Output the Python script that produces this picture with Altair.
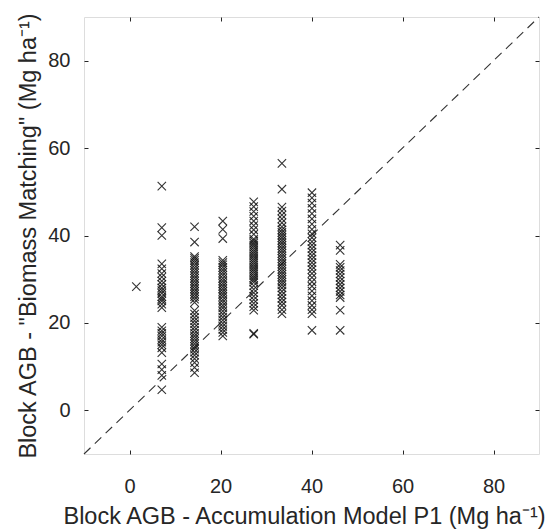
import altair as alt
import pandas as pd

# Column x positions (Accumulation Model P1) and their y values (Biomass Matching)
col_x = [7.1, 14.3, 20.5, 27.3, 33.5, 40.1, 46.3]
col1 = [51.3, 41.8, 40.0, 33.5, 32.4, 31.3, 30.5, 29.6, 28.8, 28.0, 27.4, 26.8, 26.0, 25.5,
        25.0, 24.3, 23.5, 19.0, 18.2, 17.6, 17.0, 16.2, 15.6, 15.0, 14.3, 13.2, 10.6, 9.3,
        8.0, 4.7]
col2 = [42.0, 38.5, 35.2, 34.8, 34.3, 33.8, 33.2, 32.6, 32.0, 31.4, 30.8, 30.2, 29.6, 29.0,
        28.4, 27.8, 27.2, 26.6, 26.0, 25.4, 24.7, 22.8, 22.0, 21.2, 20.5, 19.8, 19.0, 18.3,
        17.6, 17.0, 16.4, 15.8, 15.2, 14.6, 14.0, 13.3, 12.6, 11.8, 10.9, 9.8, 8.6]
col3 = [43.3, 41.4, 39.3, 34.3, 33.8, 33.3, 32.7, 32.1, 31.5, 30.9, 30.2, 29.6, 29.0, 28.4,
        27.8, 27.2, 26.6, 26.0, 25.3, 24.7, 24.0, 23.4, 22.7, 22.0, 21.3, 20.6, 19.9, 19.2,
        18.5, 17.8, 17.0]
col4 = [47.7, 46.6, 45.5, 44.4, 43.3, 42.3, 41.3, 40.3, 39.2, 38.8, 38.3, 37.8, 37.3, 36.8,
        36.3, 35.8, 35.3, 34.8, 34.3, 33.8, 33.3, 32.8, 32.3, 31.8, 31.3, 30.8, 30.3, 29.8,
        29.3, 28.5, 27.7, 26.9, 26.1, 25.3, 24.5, 23.7, 22.9, 17.6, 17.4]
col5 = [56.5, 50.6, 46.5, 45.6, 44.7, 43.8, 42.9, 42.0, 41.3, 40.7, 40.1, 39.5, 38.9, 38.3,
        37.7, 37.1, 36.5, 35.9, 35.3, 34.7, 34.1, 33.5, 32.9, 32.3, 31.7, 31.1, 30.5, 29.9,
        29.3, 28.7, 28.0, 27.2, 26.4, 25.6, 24.8, 24.0, 23.0, 22.1]
col6 = [49.8, 48.6, 47.4, 46.2, 45.0, 43.8, 42.6, 41.4, 40.4, 39.5, 38.6, 37.8, 37.0, 36.2,
        35.4, 34.6, 33.8, 33.0, 32.2, 31.3, 30.4, 29.4, 28.4, 27.3, 26.2, 25.1, 24.0, 23.0,
        22.1, 18.3]
col7 = [37.8, 36.6, 33.4, 32.7, 32.0, 31.2, 30.4, 29.6, 28.8, 28.0, 27.2, 26.4, 25.8, 22.9,
        18.3]
extra_x = [1.5]
extra_y = [28.3]

diag = [-10, 90]
ticks = [0, 20, 40, 60, 80]

xs, ys = [], []
for cx, col in zip(col_x, [col1, col2, col3, col4, col5, col6, col7]):
    xs += [cx] * len(col)
    ys += col
xs += extra_x
ys += extra_y
pts = pd.DataFrame({"x": xs, "y": ys})
line_df = pd.DataFrame({"x": diag, "y": diag})

FONT = "Liberation Sans"
AX = "#262626"
dom = [-10, 90]

xscale = alt.Scale(domain=dom, nice=False, zero=False)
yscale = alt.Scale(domain=dom, nice=False, zero=False)

x_axis = alt.Axis(values=ticks, orient="bottom", domain=False, grid=False, tickSize=4, offset=-4,
                  tickColor=AX, labelColor=AX, labelFont=FONT, labelFontSize=20, labelPadding=22,
                  title="Block AGB - Accumulation Model P1 (Mg ha⁻¹)", titleFont=FONT,
                  titleFontSize=23.5, titleFontWeight="normal", titleColor=AX, titlePadding=8,
                  titleX=220)
y_axis = alt.Axis(values=ticks, orient="left", domain=False, grid=False, tickSize=4, offset=-4,
                  tickColor=AX, labelColor=AX, labelFont=FONT, labelFontSize=20, labelPadding=14,
                  title='Block AGB - "Biomass Matching" (Mg ha⁻¹)', titleFont=FONT,
                  titleFontSize=23.5, titleFontWeight="normal", titleColor=AX, titlePadding=7)
x_top = alt.Axis(values=ticks, orient="top", domain=False, grid=False, tickSize=4, offset=-4,
                 tickColor=AX, labels=False, title=None)
y_right = alt.Axis(values=ticks, orient="right", domain=False, grid=False, tickSize=4, offset=-4,
                   tickColor=AX, labels=False, title=None)

xshape = "M-1,-1L1,1M-1,1L1,-1"

points = alt.Chart(pts).mark_point(shape=xshape, filled=False, size=70, strokeWidth=1.1,
                                   color="#111111", opacity=0.85).encode(
    x=alt.X("x:Q", scale=xscale, axis=x_axis),
    y=alt.Y("y:Q", scale=yscale, axis=y_axis),
)

line = alt.Chart(line_df).mark_line(color="#333333", strokeWidth=1.1, strokeDash=[9, 6]).encode(
    x=alt.X("x:Q", scale=xscale, axis=x_top),
    y=alt.Y("y:Q", scale=yscale, axis=y_right),
)

chart = alt.layer(line, points).resolve_axis(x="independent", y="independent").properties(
    width=455, height=437,
    autosize=alt.AutoSizeParams(type="none"),
    padding={"left": 76, "top": 9, "right": 11, "bottom": 76},
).configure_view(stroke=AX, strokeWidth=1).configure(background="white")

chart.save("out.html", embed_options={"renderer": "svg", "actions": False})
